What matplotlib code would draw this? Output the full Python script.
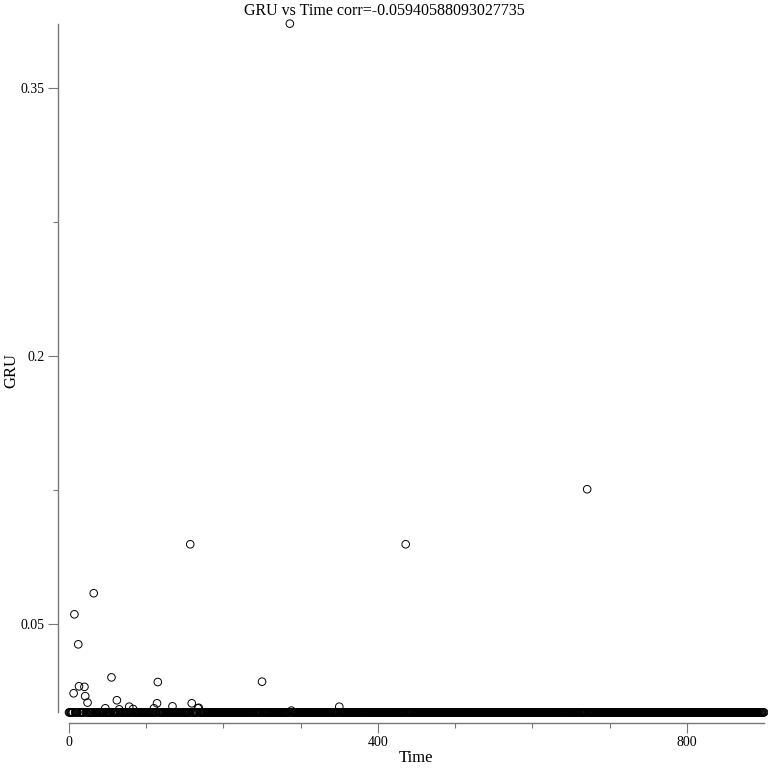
import matplotlib
matplotlib.use("Agg")
import matplotlib.pyplot as plt
import numpy as np

plt.rcParams['font.family'] = ['Liberation Serif', 'DejaVu Serif']

# Data
time_range = list(range(0, 901))          # one sample per time step
baseline_gru = 0.0005                      # the dense band near zero
outlier_times = [286, 671, 157, 436, 32, 7, 12, 55, 115, 250, 6, 13, 20, 21,
                 24, 62, 114, 159, 78, 47, 134, 168, 350, 288, 83, 110, 65, 167]
outlier_gru = [0.386, 0.1254, 0.0946, 0.0946, 0.0672, 0.0554, 0.0386, 0.0201,
               0.0175, 0.0177, 0.0112, 0.0151, 0.0148, 0.0096, 0.0060, 0.0073,
               0.0056, 0.0056, 0.0037, 0.0028, 0.0039, 0.0031, 0.0037, 0.0015,
               0.0024, 0.0028, 0.0022, 0.0028]
corr = -0.05940588093027735

gru = {t: baseline_gru for t in time_range}
for t, v in zip(outlier_times, outlier_gru):
    gru[t] = v
times = np.array(list(gru.keys()))
values = np.array(list(gru.values()))

fig = plt.figure(figsize=(7.68, 7.68), dpi=100)
W = H = 768.0
# axes in pixel coordinates: left spine at x=58, bottom spine at y=723
left_px, right_px, top_px, bottom_px = 58, 766, 18, 723
ax = fig.add_axes([left_px / W, 1 - bottom_px / H,
                   (right_px - left_px) / W, (bottom_px - top_px) / H])

ax.scatter(times, values, s=30, facecolors='none', edgecolors='black',
           linewidths=0.7, zorder=3, clip_on=False)

xs = 0.7725
ax.set_xlim(-(69 - left_px) / xs, 900 + (right_px - 764) / xs)
ys = 1786.7
ax.set_ylim(-(bottom_px - 713.3) / ys, (713.3 - top_px) / ys)

for s in ['top', 'right']:
    ax.spines[s].set_visible(False)
for s in ['left', 'bottom']:
    ax.spines[s].set_color('#777777')
    ax.spines[s].set_linewidth(1.0)
ax.spines['left'].set_bounds(values.min(), values.max())
ax.spines['bottom'].set_bounds(times.min(), times.max())

ax.set_yticks([0.05, 0.2, 0.35])
ax.set_yticklabels(['0.05', '0.2', '0.35'])
ax.set_yticks([0.125, 0.275], minor=True)
ax.set_xticks([0, 400, 800])
ax.set_xticklabels(['0', '400', '800'])
ax.set_xticks([100, 200, 300, 500, 600, 700], minor=True)
ax.tick_params(which='major', length=7.2, width=0.8, color='#777777',
               labelsize=10, pad=2.2)
ax.tick_params(which='minor', length=3.6, width=0.8, color='#777777')

ax.set_xlabel('Time', fontsize=12)
ax.set_ylabel('GRU', fontsize=12)
ax.xaxis.label.set_va('center')
ax.yaxis.label.set_va('center')
ax.xaxis.set_label_coords((416 - left_px) / (right_px - left_px),
                          (bottom_px - 758) / (bottom_px - top_px))
ax.yaxis.set_label_coords((11 - left_px) / (right_px - left_px),
                          (bottom_px - 370) / (bottom_px - top_px))
fig.text(0.5, 1 - 11 / H, f'GRU vs Time corr={corr}', ha='center',
         va='center', fontsize=11.5)

fig.savefig('out.png', dpi=100)
